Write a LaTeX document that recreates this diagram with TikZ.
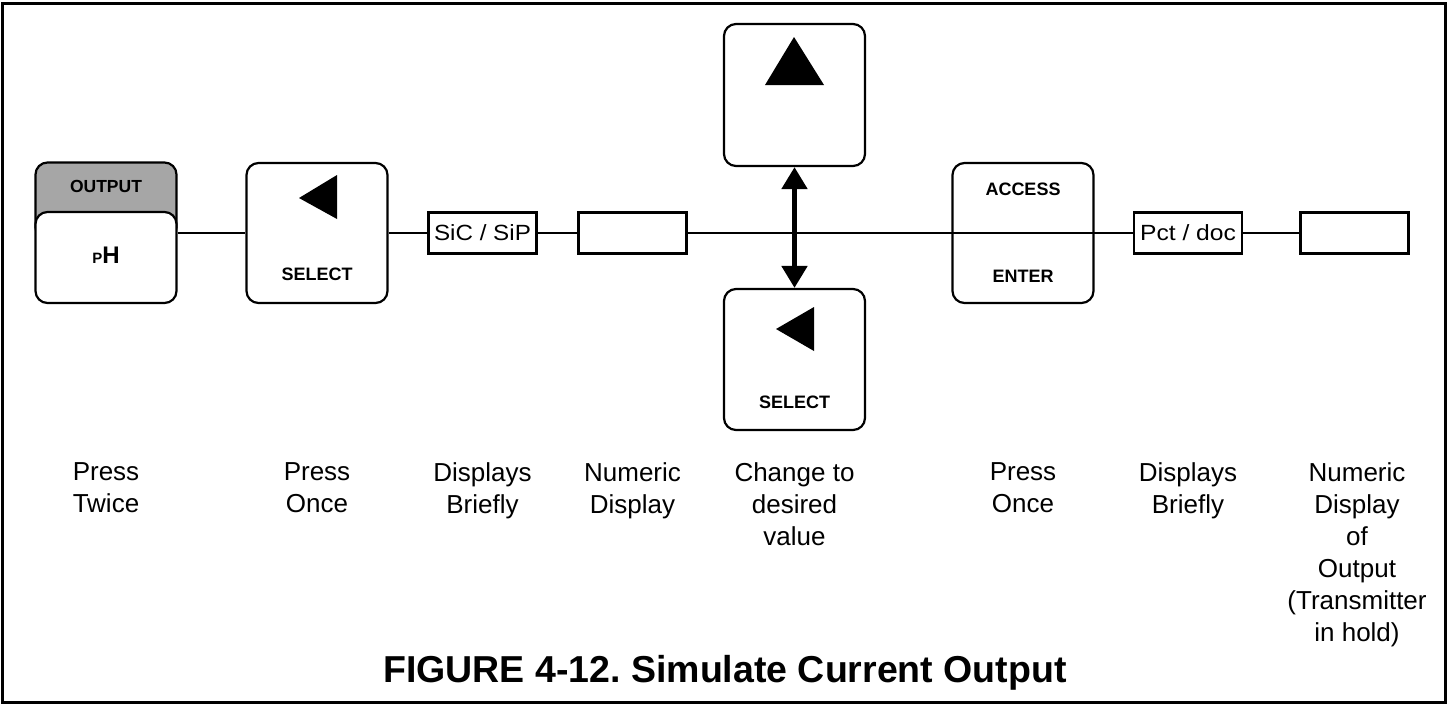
\documentclass[tikz,border=0pt]{standalone}
\usepackage{fontspec}
\setmainfont{Liberation Sans}
\usetikzlibrary{arrows.meta}
\frenchspacing
\tikzset{
  btn/.style={draw, line width=2.2pt, rounded corners=12pt, minimum width=141pt, minimum height=140pt, fill=white, inner sep=0pt},
  disp/.style={draw, line width=2.6pt, minimum width=108pt, minimum height=41pt, inner sep=0pt, font=\fontsize{22}{22}\selectfont},
  conn/.style={line width=1.8pt},
  keylbl/.style={font=\bfseries\fontsize{18}{18}\selectfont, inner sep=0pt},
  caplbl/.style={font=\fontsize{26}{32}\selectfont, align=center, anchor=north, inner sep=0pt},
  tri/.style={fill=black},
  dbl/.style={line width=5pt, {Triangle[width=25pt,length=22pt]}-{Triangle[width=25pt,length=22pt]}}
}
\begin{document}
\begin{tikzpicture}[x=1pt,y=-1pt]
\useasboundingbox (0,0) rectangle (1447,705);
\draw[line width=3pt] (2,3) rectangle (1445,702);

% OUTPUT / pH key
\node[btn, fill=black!35, minimum height=77pt] (outhead) at (106,201) {};
\node[btn, minimum height=91pt] (outbody) at (106,257.5) {};
\node[keylbl, font=\bfseries\fontsize{17.5}{17.5}\selectfont] (outtxt) at (106,186) {OUTPUT};
\node[inner sep=0pt, font=\bfseries] (phtxt) at (106,255) {{\fontsize{15}{15}\selectfont P}{\fontsize{24}{24}\selectfont H}};

% SELECT key 1
\node[btn] (sel1) at (317,233) {};
\fill[tri] (299,198) -- (337,175) -- (337,219) -- cycle;
\node[keylbl] (sel1txt) at (317,274) {SELECT};

% displays
\node[disp] (d1) at (482.5,233) {\scalebox{1.1}[1]{SiC / SiP}};
\node[disp] (n1) at (632.5,233) {};

% up key and select key 2
\node[btn, minimum height=142pt] (up) at (794.5,95) {};
\fill[tri] (794,37) -- (765,85) -- (824,85) -- cycle;
\node[btn, minimum height=141pt] (sel2) at (794.5,359.5) {};
\fill[tri] (776,329) -- (814,307) -- (814,351) -- cycle;
\node[keylbl] (sel2txt) at (794.5,402) {SELECT};

% ACCESS / ENTER key
\node[btn] (acc) at (1023,233) {};
\node[keylbl] (acctxt) at (1023,189) {ACCESS};
\node[keylbl] (enttxt) at (1023,276) {ENTER};

\node[disp] (d2) at (1188,233) {\scalebox{1.12}[1]{Pct / doc}};
\node[disp] (n2) at (1354.5,233) {};

% connectors
\draw[conn] (outbody.east |- sel1.west) -- (sel1.west);
\draw[conn] (sel1.east) -- (d1.west);
\draw[conn] (d1.east) -- (n1.west);
\draw[conn] (n1.east) -- (d2.west);
\draw[conn] (d2.east) -- (n2.west);
\draw[dbl] (up.south) -- (sel2.north);

% captions
\node[caplbl] (c1) at (106,462) {Press\\Twice};
\node[caplbl] (c2) at (317,462) {Press\\Once};
\node[caplbl] (c3) at (482.5,462) {Displays\\Briefly};
\node[caplbl] (c4) at (632.5,462) {Numeric\\Display};
\node[caplbl] (c5) at (794.5,462) {Change to\\desired\\value};
\node[caplbl] (c6) at (1023,462) {Press\\Once};
\node[caplbl] (c7) at (1188,462) {Displays\\Briefly};
\node[caplbl] (c8) at (1357,462) {Numeric\\Display\\of\\Output\\(Transmitter\\in hold)};

\node[font=\bfseries\fontsize{37.5}{37.5}\selectfont, anchor=base, inner sep=0pt] (title) at (725,682) {FIGURE 4-12. Simulate Current Output};
\end{tikzpicture}
\end{document}
